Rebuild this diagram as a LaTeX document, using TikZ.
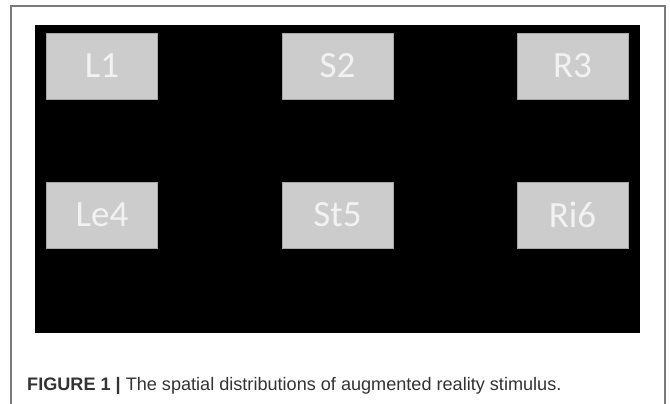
\documentclass[tikz,border=0pt]{standalone}
\usepackage{fontspec}
\setmainfont{Liberation Sans}
\newfontfamily\boxfont{Carlito}
\definecolor{framegray}{HTML}{7A7A7A}
\definecolor{boxfill}{HTML}{CCCCCC}
\definecolor{boxline}{HTML}{A6A6A6}
\definecolor{boxtext}{HTML}{F2F2F2}
\definecolor{captext}{HTML}{333333}
\begin{document}
\begin{tikzpicture}[x=1pt,y=-1pt,
  stimbox/.style={draw=boxline, line width=0.8pt, fill=boxfill, minimum width=111pt, minimum height=66pt, inner sep=0pt, text=boxtext, font=\boxfont\fontsize{37}{40}\selectfont},
  captionnode/.style={anchor=base west, inner sep=0pt, text=captext, font=\fontsize{18.1}{21}\selectfont}]
\useasboundingbox (0,0) rectangle (670,404);
\fill[white] (0,0) rectangle (670,404);
\draw[framegray, line width=1.4pt] (11,404) -- (11,6) -- (665,6) -- (665,404);
\fill[black] (35,25) rectangle (640,333);
\node[stimbox] (l1) at (102,66) {L1};
\node[stimbox] (s2) at (337.5,66) {S2};
\node[stimbox] (r3) at (572.5,66) {R3};
\node[stimbox] (le4) at (102,215) {Le4};
\node[stimbox] (st5) at (337.5,215) {St5};
\node[stimbox] (ri6) at (572.5,215) {Ri6};
\node[captionnode] (cap) at (27,390) {\textbf{FIGURE 1 |} The spatial distributions of augmented reality stimulus.};
\end{tikzpicture}
\end{document}
